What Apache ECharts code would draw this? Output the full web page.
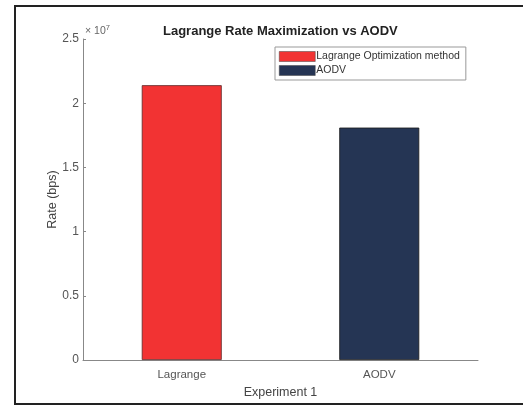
<!DOCTYPE html>
<html><head><meta charset="utf-8">
<script src="https://cdn.jsdelivr.net/npm/echarts@6/dist/echarts.min.js"></script>
<style>html,body{margin:0;padding:0;background:#fff}#c{width:523px;height:406px}</style>
</head><body><div id="c"></div>
<script>
const categories = ['Lagrange', 'AODV'];
const seriesNames = ['Lagrange Optimization method', 'AODV'];
const lagrangeValues = [2.14e7, null];
const aodvValues = [null, 1.81e7];
const yTicks = [0, 0.5e7, 1e7, 1.5e7, 2e7, 2.5e7];

const chart = echarts.init(document.getElementById('c'));
const font = 'Liberation Sans, Arial, Helvetica, sans-serif';
chart.setOption({
  backgroundColor: '#fff',
  animation: false,
  title: {
    text: 'Lagrange Rate Maximization vs AODV',
    left: 158, top: 20,
    textStyle: {fontFamily: font, fontSize: 13, fontWeight: 'bold', color: '#222'}
  },
  legend: {
    orient: 'vertical', left: 275, top: 47,
    data: seriesNames.map(n => ({name: n, icon: 'rect'})),
    itemWidth: 36, itemHeight: 10, itemGap: 3,
    padding: [4, 6, 4, 4],
    borderColor: '#999', borderWidth: 1, backgroundColor: '#fff',
    textStyle: {fontFamily: font, fontSize: 10.5, color: '#333', padding: [0, 0, 0, -4]},
    itemStyle: {borderColor: '#444', borderWidth: 0.5}
  },
  grid: {left: 83, right: 45, top: 39, bottom: 46, containLabel: false},
  xAxis: {
    type: 'category', data: categories,
    name: 'Experiment 1', nameLocation: 'middle', nameGap: 26, nameMoveOverlap: false,
    nameTextStyle: {fontFamily: font, fontSize: 12.5, color: '#444'},
    axisLine: {lineStyle: {color: '#888', width: 1}},
    axisTick: {show: false},
    axisLabel: {fontFamily: font, fontSize: 11.5, color: '#555', margin: 9}
  },
  yAxis: {
    type: 'value', min: 0, max: 2.5e7, interval: 0.5e7,
    name: 'Rate (bps)', nameLocation: 'middle', nameGap: 24, nameRotate: 90, nameMoveOverlap: false,
    nameTextStyle: {fontFamily: font, fontSize: 12.5, color: '#444'},
    axisLine: {show: true, lineStyle: {color: '#888', width: 1}},
    axisTick: {show: true, inside: true, length: 3, lineStyle: {color: '#888'}},
    splitLine: {show: false},
    axisLabel: {fontFamily: font, fontSize: 12, color: '#555', margin: 4,
      formatter: v => String(v / 1e7)}
  },
  series: [
    {name: seriesNames[0], type: 'bar', data: lagrangeValues, stack: 's', barWidth: '40.5%',
     itemStyle: {color: '#f23333', borderColor: '#5a2a2a', borderWidth: 0.8}},
    {name: seriesNames[1], type: 'bar', data: aodvValues, stack: 's', barWidth: '40.5%',
     itemStyle: {color: '#253554', borderColor: '#1a1a1a', borderWidth: 0.8}}
  ],
  graphic: [
    {type: 'text', left: 85, top: 24, style: {
      text: '× 10{s|7}', fontFamily: font, fontSize: 10.5, fill: '#666',
      rich: {s: {fontSize: 7.5, fill: '#666', verticalAlign: 'top', padding: [0, 0, 6, 0]}}}},
    {type: 'polyline', shape: {points: [[523, 6], [15, 6], [15, 404], [523, 404]]},
     style: {stroke: '#222', lineWidth: 2, fill: null}}
  ]
});
</script></body></html>
